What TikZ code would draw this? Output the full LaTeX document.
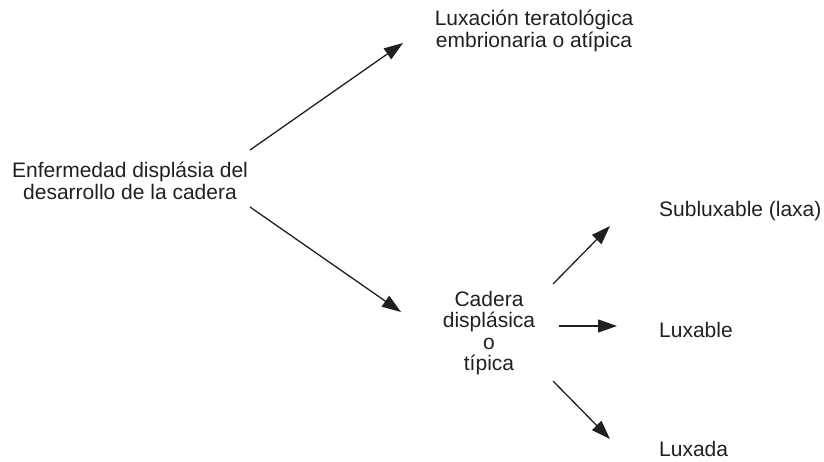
\documentclass[tikz,border=0pt]{standalone}
\usepackage{fontspec}
\setmainfont{Liberation Sans}
\usetikzlibrary{arrows.meta}
\definecolor{ink}{HTML}{231F20}
\begin{document}
\begin{tikzpicture}[x=1pt,y=-1pt,
  lbl/.style={inner sep=0pt,align=center,font=\fontsize{21}{21.5}\selectfont,text=ink},
  lbll/.style={inner sep=0pt,anchor=west,font=\fontsize{21}{21.5}\selectfont,text=ink},
  conn/.style={draw=ink,line width=1.3pt,-{Triangle[length=19pt,width=13pt]}}]
\useasboundingbox (0,0) rectangle (824,461);
\node[lbl] (A) at (130,181) {Enfermedad displásia del\\desarrollo de la cadera};
\node[lbl] (B) at (534,31) {Luxación teratológica\\embrionaria o atípica};
\node[lbl] (C) at (489,333) {Cadera\\displásica\\o\\típica};
\node[lbll] (D) at (659,211) {Subluxable (laxa)};
\node[lbll] (E) at (659,330) {Luxable};
\node[lbll] (F) at (659,449) {Luxada};
\coordinate (a1) at (250,150); \coordinate (b1) at (403,43);
\coordinate (a2) at (250,207); \coordinate (c1) at (401,312);
\coordinate (c2) at (553,284); \coordinate (d1) at (610,226);
\coordinate (c3) at (559,326); \coordinate (e1) at (617,326);
\coordinate (c4) at (553,381); \coordinate (f1) at (610,439);
\draw[conn] (a1) -- (b1);
\draw[conn] (a2) -- (c1);
\draw[conn] (c2) -- (d1);
\draw[conn] (c3) -- (e1);
\draw[conn] (c4) -- (f1);
\end{tikzpicture}
\end{document}
